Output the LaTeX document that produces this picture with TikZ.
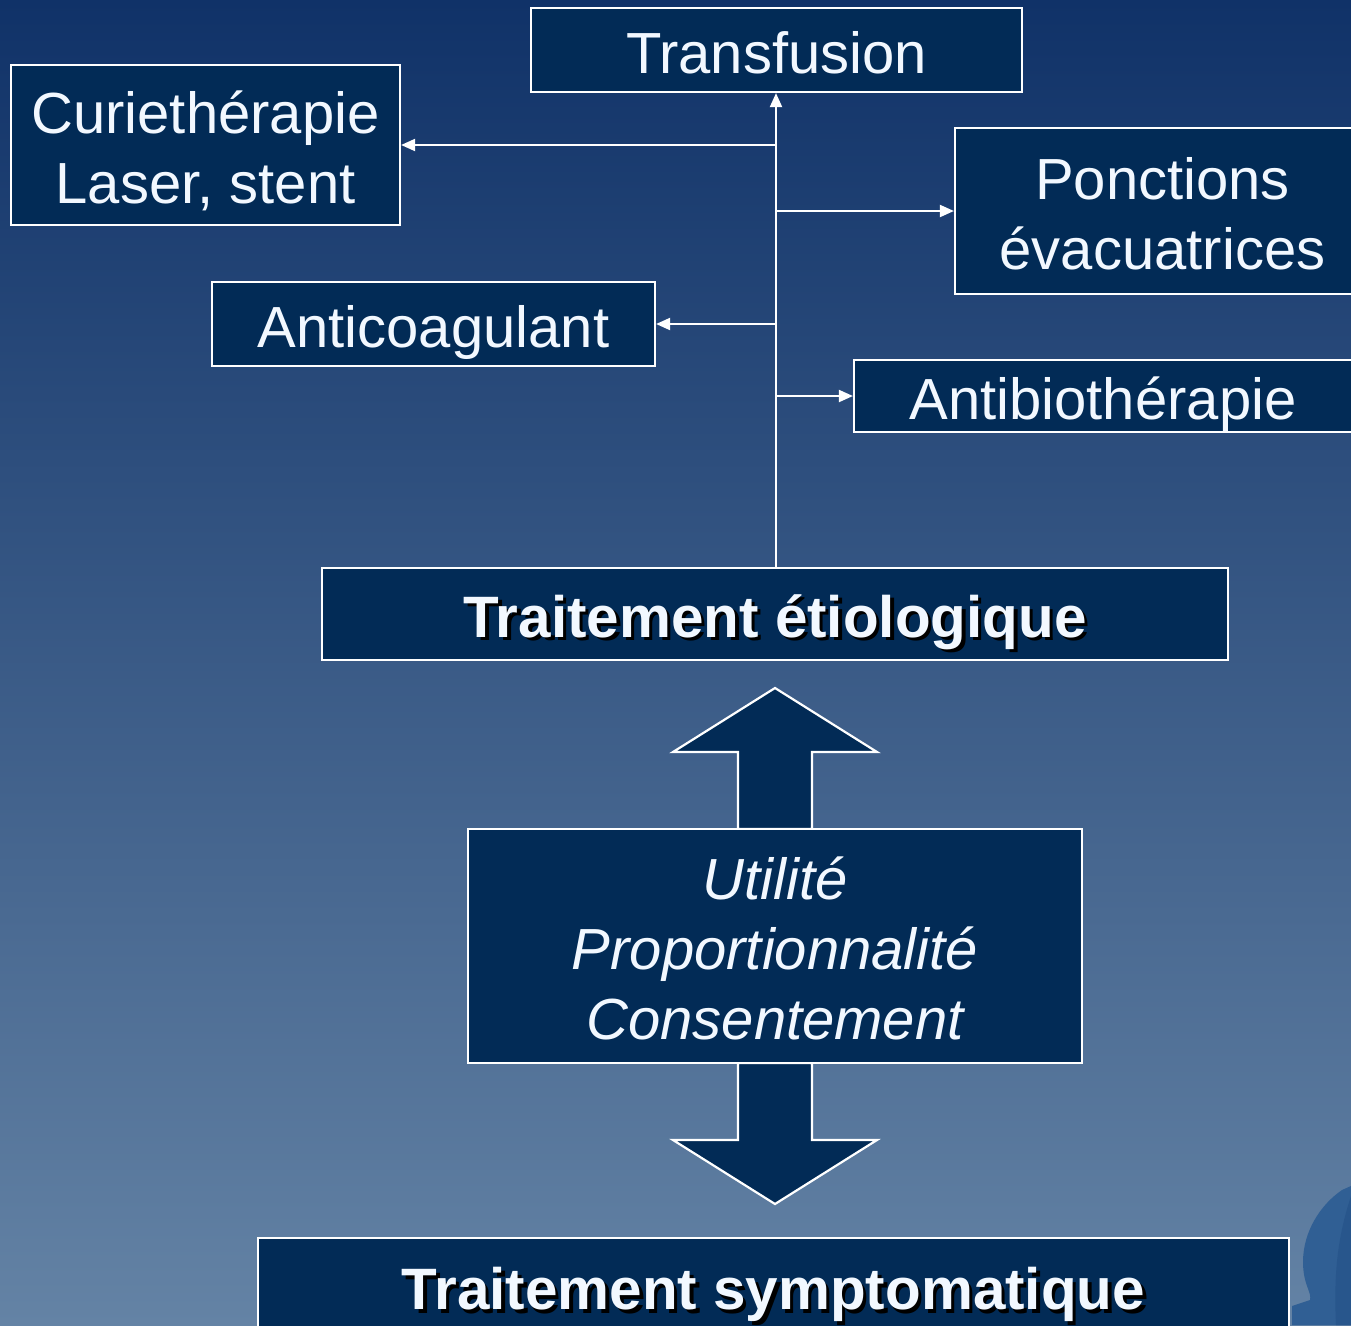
\documentclass[tikz,border=0pt]{standalone}
\usepackage{fontspec}
\setmainfont{Liberation Sans}
\usetikzlibrary{arrows.meta}
\definecolor{navy}{RGB}{2,43,86}
\definecolor{bgtop}{RGB}{16,50,104}
\definecolor{bgmid}{RGB}{60,88,128}
\definecolor{bgbot}{RGB}{100,131,165}
\definecolor{txt}{RGB}{242,248,255}
\definecolor{blobA}{RGB}{48,95,148}
\definecolor{blobB}{RGB}{40,86,140}
\newcommand\shadowtxt[1]{\leavevmode\rlap{\kern3.5pt\raisebox{-3.5pt}[0pt][0pt]{\color{black}#1}}#1}
\newcommand\btxt[1]{\raisebox{-9pt}[\height][\depth]{\begin{tabular}{@{}c@{}}#1\end{tabular}}}
\begin{document}
\begin{tikzpicture}[x=1pt,y=-1pt,
  box/.style={draw=white, line width=2.2pt, fill=navy, text=txt,
    font=\fontsize{58}{70}\selectfont, align=center, inner sep=0pt},
  boldbox/.style={box, font=\fontsize{58.4}{70}\selectfont\bfseries},
  itbox/.style={box, font=\fontsize{58}{70}\selectfont\itshape},
  conn/.style={draw=white, line width=2pt, -{Triangle[length=14pt,width=12pt]}},
  bigarrow/.style={draw=white, line width=2.2pt, fill=navy, line join=miter}]
\useasboundingbox (0,0) rectangle (1351,1325);
\clip (0,0) rectangle (1351,1325);
\shade[top color=bgtop, middle color=bgmid, bottom color=bgbot] (0,0) rectangle (1351,1325);
% decorative shape bottom right
\fill[blobA] (1351,1186) -- (1342,1190) .. controls (1320,1205) and (1303,1232) .. (1303,1262)
  .. controls (1303,1285) and (1312,1292) .. (1310,1300) -- (1292,1306) -- (1292,1325) -- (1351,1325) -- cycle;
\fill[blobB] (1351,1196) .. controls (1340,1230) and (1333,1265) .. (1336,1325) -- (1351,1325) -- cycle;

% boxes
\node[box, minimum width=491, minimum height=84] (tr) at (776.5,50) {\btxt{Transfusion}};
\node[box, minimum width=389, minimum height=160] (cu) at (205.5,145) {\btxt{Curiethérapie\\Laser, stent}};
\node[box, minimum width=415, minimum height=166] (po) at (1162.5,211) {\btxt{Ponctions\\évacuatrices}};
\node[box, minimum width=443, minimum height=84] (an) at (433.5,324) {\btxt{Anticoagulant}};
\node[box, minimum width=498, minimum height=72] (ab) at (1103,396) {\btxt{Antibiothérapie}};
\node[boldbox, minimum width=906, minimum height=92] (te) at (775,614) {\btxt{\shadowtxt{Traitement étiologique}}};

% double arrow
\draw[bigarrow] (738,829) -- (738,752) -- (673,752) -- (775,688) -- (877,752) -- (812,752) -- (812,829) -- cycle;
\draw[bigarrow] (738,1063) -- (738,1140) -- (673,1140) -- (775,1204) -- (877,1140) -- (812,1140) -- (812,1063) -- cycle;
\node[itbox, minimum width=614, minimum height=234] (ut) at (775,946) {\btxt{Utilité\\Proportionnalité\\Consentement}};

\node[boldbox, minimum width=1031, minimum height=97] (ts) at (773.5,1286.5) {\btxt{\shadowtxt{Traitement symptomatique}}};

% connectors
\coordinate (base) at (776,568);
\coordinate (b1) at (776,145);
\coordinate (b2) at (776,211);
\coordinate (b3) at (776,324);
\coordinate (b4) at (776,396);
\draw[conn] (base) -- (base |- tr.south);
\draw[conn] (b1) -- (b1 -| cu.east);
\draw[conn] (b2) -- (b2 -| po.west);
\draw[conn] (b3) -- (b3 -| an.east);
\draw[conn] (b4) -- (b4 -| ab.west);
\end{tikzpicture}
\end{document}
